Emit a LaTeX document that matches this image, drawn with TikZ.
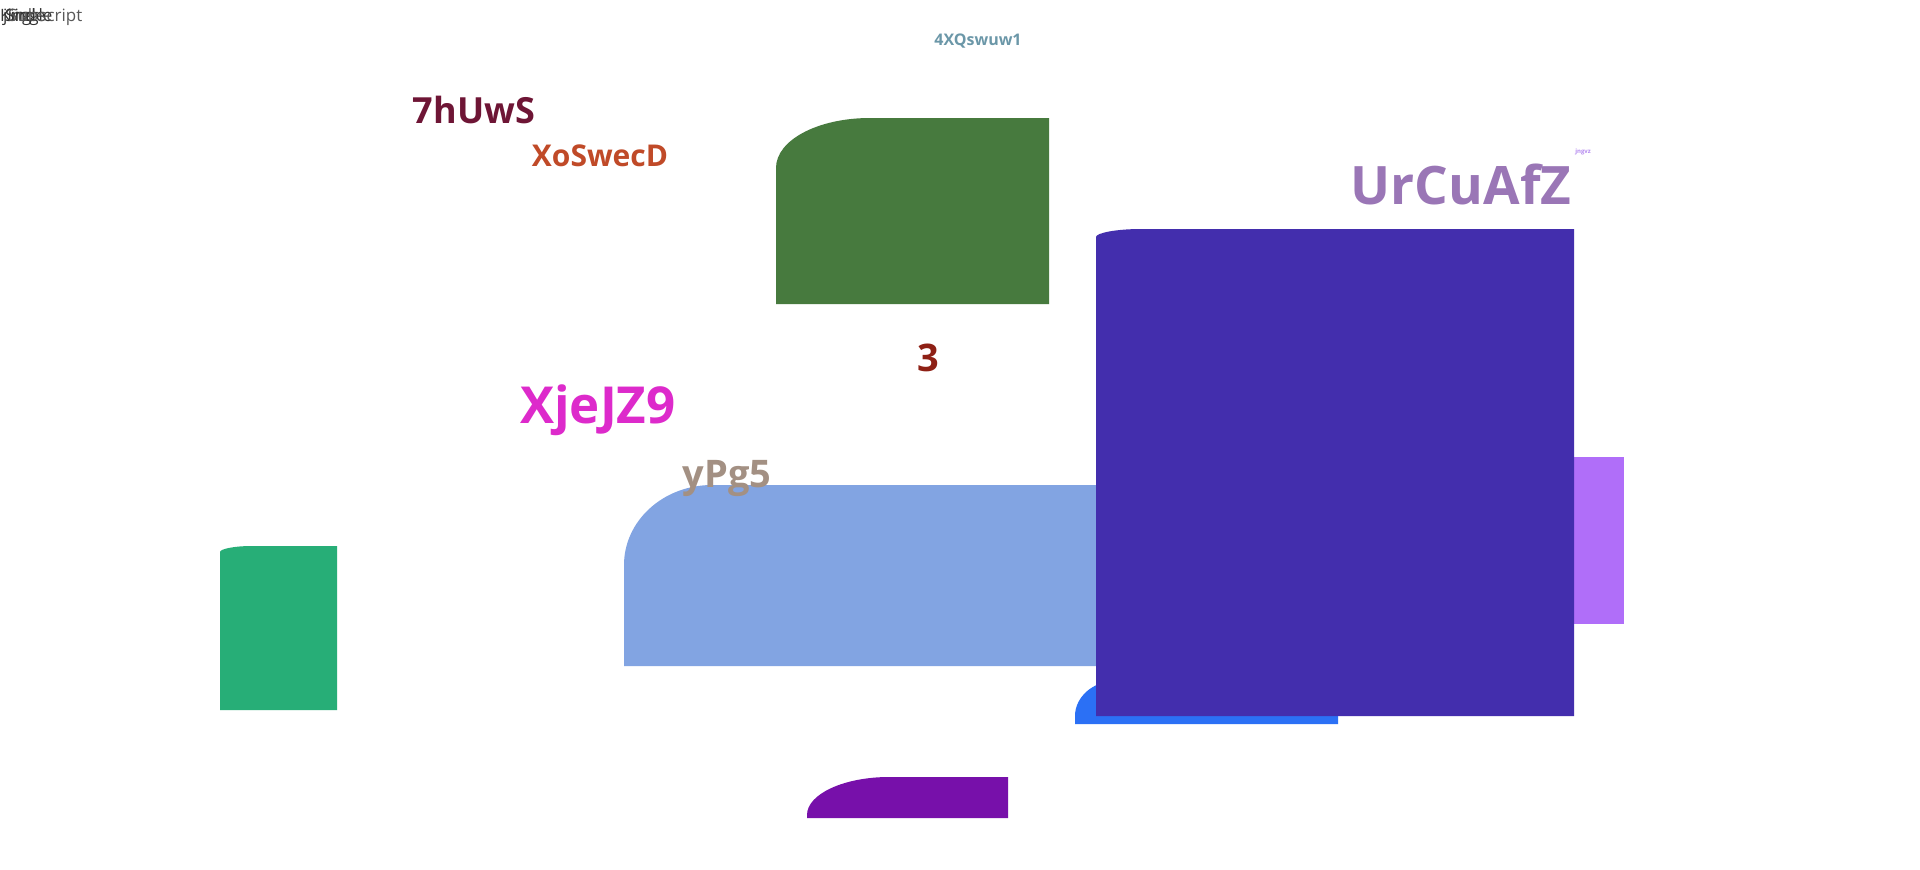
\documentclass[tikz,border=0pt]{standalone}
\usepackage{fontspec}
\setmainfont{Open Sans}
\usepackage{tikz}
\usetikzlibrary{positioning}
\usepackage{xcolor}

\definecolor{leafgreen}{HTML}{477A3E}
\definecolor{indigo}{HTML}{432EAD}
\definecolor{lilac}{HTML}{B06EF9}
\definecolor{skyblue}{HTML}{82A4E2}
\definecolor{brightblue}{HTML}{2B70F5}
\definecolor{grape}{HTML}{7710AA}
\definecolor{jade}{HTML}{27AE77}
\definecolor{wine}{HTML}{6E1535}
\definecolor{rust}{HTML}{C04A28}
\definecolor{mauve}{HTML}{9A76B6}
\definecolor{violetlight}{HTML}{B58AF0}
\definecolor{brick}{HTML}{8E2015}
\definecolor{magenta2}{HTML}{DD2ACB}
\definecolor{taupe}{HTML}{A39083}
\definecolor{steel}{HTML}{6B97A8}

\tikzset{
  lbl/.style={font=\bfseries, anchor=base, inner sep=0pt},
  corner/.style={anchor=base west, inner sep=0pt, text=black!80}
}

\begin{document}
\begin{tikzpicture}[x=1pt,y={(0,-1pt)}]
  \useasboundingbox[fill=white] (0,0) rectangle (1920,870);

  % Shapes behind
  \fill[skyblue] (624,666) -- (624,565) .. controls (624,521) and (663,485) .. (712,485) -- (1150,485) -- (1150,666) -- cycle;
  \fill[brightblue] (1075,724) -- (1075,716) .. controls (1075,697) and (1093,681) .. (1115,681) -- (1338,681) -- (1338,724) -- cycle;
  \fill[lilac] (1560,457) rectangle (1624,624);
  \fill[leafgreen] (776,304) -- (776,168) .. controls (776,140) and (818,118) .. (870,118) -- (1049,118) -- (1049,304) -- cycle;
  \fill[grape] (807,818) -- (807,815) .. controls (807,794) and (844,777) .. (889,777) -- (1008,777) -- (1008,818) -- cycle;
  \fill[jade] (220,710) -- (220,552) .. controls (220,549) and (234,546) .. (252,546) -- (337,546) -- (337,710) -- cycle;

  % Big block on top
  \fill[indigo] (1096,716) -- (1096,237) .. controls (1096,233) and (1116,229) .. (1141,229) -- (1574,229) -- (1574,716) -- cycle;

  % Labels
  \node[corner, font=\fontsize{17}{17}\selectfont] (kind) at (0,21) {Kind};
  \node[corner, font=\fontsize{17}{17}\selectfont] (jingle) at (3,21) {jingle};
  \node[corner, font=\fontsize{17}{17}\selectfont] (single) at (5,21) {Single};
  \node[corner, font=\fontsize{17}{17}\selectfont, text=black!65] (subscript) at (8,21) {Subscript};

  \node[lbl, steel, font=\bfseries\fontsize{16}{16}\selectfont] (title) at (978,45) {4XQswuw1};
  \node[lbl, wine, font=\bfseries\fontsize{36}{36}\selectfont] (hu) at (474,123) {7hUwS};
  \node[lbl, rust, font=\bfseries\fontsize{30}{30}\selectfont] (xo) at (600,166) {XoSwecD};
  \node[lbl, mauve, font=\bfseries\fontsize{53}{53}\selectfont] (ur) at (1461,204) {UrCuAfZ};
  \node[lbl, violetlight, font=\bfseries\fontsize{6}{6}\selectfont] (jn) at (1583,153) {jngvz};
  \node[lbl, brick, font=\bfseries\fontsize{38}{38}\selectfont] (three) at (928,371) {3};
  \node[lbl, magenta2, font=\bfseries\fontsize{51}{51}\selectfont] (xj) at (598,423) {XjeJZ9};
  \node[lbl, taupe, font=\bfseries\fontsize{38}{38}\selectfont] (yp) at (727,487) {yPg5};
\end{tikzpicture}
\end{document}
